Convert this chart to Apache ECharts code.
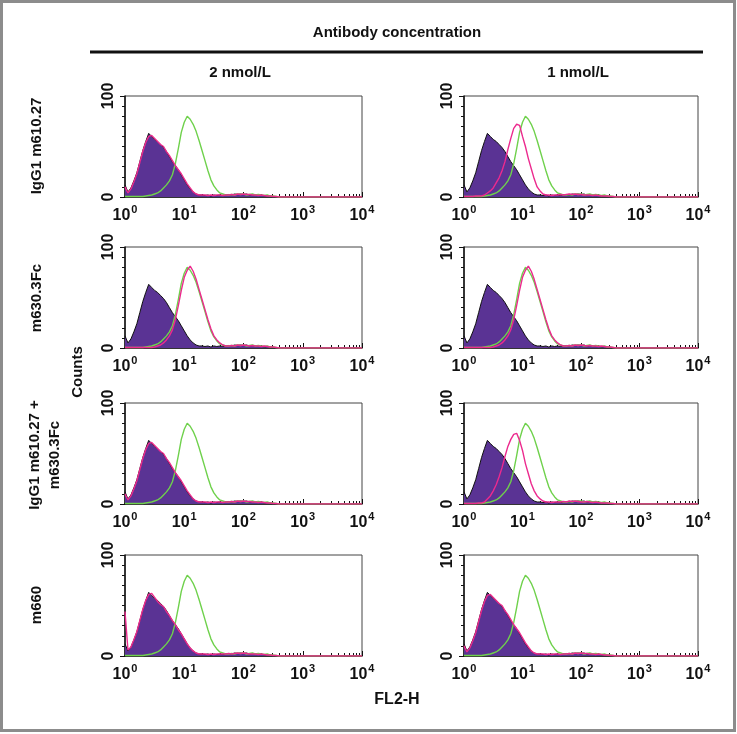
<!DOCTYPE html>
<html><head><meta charset="utf-8">
<script src="https://cdn.jsdelivr.net/npm/echarts@6/dist/echarts.min.js"></script>
<style>html,body{margin:0;padding:0;background:#fff}#c{width:737px;height:734px}</style>
</head><body><div id="c"></div>
<script>
// FL2-H channel positions (log spaced bins)
const channelX = [1,1.122,1.259,1.413,1.585,1.778,1.995,2.239,2.512,2.818,3.162,3.548,3.981,4.467,5.012,5.623,6.310,7.079,7.943,8.913,10,11.22,12.59,14.13,15.85,17.78,19.95,22.39,25.12,28.18,31.62,35.48,39.81,44.67,50.12,56.23,63.10,70.79,79.43,89.13,100,112.2,125.9,141.3,158.5,177.8,199.5,223.9,251.2,281.8,316.2,354.8,398.1,631,1000,3162,10000];
// unstained control (filled purple)
const controlFill = [12,5,9,16,24,35,46,55,63,60,57,55,52,49,45,40,35,31,27,22,17,12,8,5,3,2,2,1.5,2,1,2,1.5,2,1.5,2,2.5,2,3,2.5,3,2.5,3,2,2.5,2,1.5,2,1,1.5,1,0.5,0.5,0,0,0,0,0];
// positive reference (green)
const greenLine = [0.5,0.5,0.5,0.5,0.5,0.5,0.5,1,1.5,2,3,4,6,9,12,16,22,33,48,64,74,80,77,72,65,56,46,36,26,17,11,7,4,3,2,2,2.5,2,3,2.5,3,2,2.5,3,2,2.5,2,1.5,2,1,1,0.5,0,0,0,0,0];
// magenta, overlapping control
const magentaCtrl = [10,4,8,15,23,34,45,54,60,61,58,55,52,50,45,41,36,31,27,23,18,13,9,5,3,2,2,2,1.5,2,1.5,2,2,1.5,2,2,2.5,2,3,2.5,3,2.5,2.5,2,2,1.5,2,1.5,1,1,0.5,0.5,0,0,0,0,0];
// magenta, overlapping control, left-edge spike
const magentaCtrlSpike = [44,6,9,16,24,35,46,55,61,62,58,54,51,49,44,40,35,31,26,22,17,12,8,5,3,2,2,2,1.5,2,1.5,2,2,2,2,2.5,2,2.5,3,2.5,3,2.5,2,2,2,1.5,2,1.5,1,1,0.5,0.5,0,0,0,0,0];
// magenta, shifted (row 1, 1 nmol/L)
const magentaShiftA = [0.5,0.5,0.5,0.5,1,1,1,2,4,6,9,14,19,26,35,47,58,68,72,71,60,50,38,28,18,10,6,3,2,2,1.5,2,2,2.5,2,2.5,3,2.5,3,2.5,2.5,2,2,2,1.5,2,1.5,1,1,1,0.5,0.5,0,0,0,0,0];
// magenta, shifted (row 3, 1 nmol/L)
const magentaShiftB = [0.5,0.5,0.5,0.5,0.5,1,1,2,5,8,13,19,27,36,47,57,64,69,70,63,53,40,30,20,13,8,5,3,2,2,1.5,2,2,2,2.5,2,3,2.5,3,2.5,2,2,2.5,2,1.5,2,1.5,1,1,1,0.5,0.5,0,0,0,0,0];
// magenta, overlapping green (row 2)
const magentaGreen = [0.5,0.5,0.5,0.5,0.5,0.5,0.5,0.5,0.5,0.5,1,2,3,5,8,12,18,28,42,57,70,77,81,76,68,58,48,38,28,19,12,8,5,3,2,2,2.5,2,3,2.5,3,2.5,2,2.5,2,2,1.5,2,1.5,1,1,0.5,0,0,0,0,0];

const rowLabels = [["IgG1 m610.27"],["m630.3Fc"],["IgG1 m610.27 +","m630.3Fc"],["m660"]];
const colLabels = ["2 nmol/L","1 nmol/L"];
const panelMagenta = [[magentaCtrl, magentaShiftA],[magentaGreen, magentaGreen],[magentaCtrl, magentaShiftB],[magentaCtrlSpike, magentaCtrl]];
const panelControl = [[controlFill, controlFill],[controlFill, controlFill],[controlFill, controlFill],[controlFill, controlFill]];
const panelGreen = [[greenLine, greenLine],[greenLine, greenLine],[greenLine, greenLine],[greenLine, greenLine]];
const minorTickValues = [2,3,4,5,6,7,8,9,20,30,40,50,60,70,80,90,200,300,400,500,600,700,800,900,2000,3000,4000,5000,6000,7000,8000,9000];

const colLeft = [125, 464], colWidth = [237, 234];
const rowTop = [96, 247, 403, 555], rowHeight = 101;
const FONT = '"Liberation Sans", Arial, sans-serif';
const PURPLE = '#5a3394', GREEN = '#6fd14c', MAGENTA = '#ec2a8e';

const grids = [], xAxes = [], yAxes = [], series = [], minorX = [];
let idx = 0;
for (let r = 0; r < 4; r++) {
  for (let c = 0; c < 2; c++) {
    grids.push({left: colLeft[c], top: rowTop[r], width: colWidth[c], height: rowHeight,
      show: true, borderColor: '#444', borderWidth: 1, backgroundColor: '#fff'});
    xAxes.push({type: 'log', logBase: 10, min: 1, max: 10000, gridIndex: idx,
      axisLine: {lineStyle: {color: '#111', width: 1.5}},
      axisTick: {inside: true, length: 5, lineStyle: {color: '#111'}},
      splitLine: {show: false},
      axisLabel: {margin: 7, color: '#111', fontFamily: FONT,
        formatter: v => '{b|10}{s|' + Math.round(Math.log10(v)) + '}',
        rich: {b: {fontSize: 16, fontWeight: 'bold', fontFamily: FONT, color: '#111', lineHeight: 20, verticalAlign: 'bottom'},
               s: {fontSize: 11, fontWeight: 'bold', fontFamily: FONT, color: '#111', lineHeight: 20, verticalAlign: 'top', padding: [0,0,7,1]}}}});
    minorX.push({type: 'log', logBase: 10, min: 1, max: 10000, gridIndex: idx, position: 'bottom',
      axisLine: {show: false}, splitLine: {show: false}, axisLabel: {show: false},
      axisTick: {show: true, inside: true, length: 3, customValues: minorTickValues, lineStyle: {color: '#111'}}});
    yAxes.push({type: 'value', min: 0, max: 100, interval: 100, gridIndex: idx,
      axisLine: {show: true, lineStyle: {color: '#111', width: 1.5}},
      axisTick: {show: true, length: 5, lineStyle: {color: '#111'}},
      minorTick: {show: true, splitNumber: 10, length: 3, lineStyle: {color: '#111'}},
      splitLine: {show: false},
      axisLabel: {rotate: 90, margin: 8, fontSize: 16, fontWeight: 'bold', color: '#111', fontFamily: FONT}});
    const mk = arr => channelX.map((x, i) => [x, arr[i]]);
    series.push({type: 'line', xAxisIndex: idx, yAxisIndex: idx, data: mk(panelControl[r][c]), symbol: 'none',
      lineStyle: {color: '#111', width: 1}, areaStyle: {color: PURPLE, opacity: 1}, z: 2, silent: true});
    series.push({type: 'line', xAxisIndex: idx, yAxisIndex: idx, data: mk(panelGreen[r][c]), symbol: 'none',
      lineStyle: {color: GREEN, width: 1.4}, z: 3, silent: true});
    series.push({type: 'line', xAxisIndex: idx, yAxisIndex: idx, data: mk(panelMagenta[r][c]), symbol: 'none',
      lineStyle: {color: MAGENTA, width: 1.4}, z: 4, silent: true});
    idx++;
  }
}

const graphics = [
  {type: 'rect', shape: {x: 1.5, y: 1.5, width: 733, height: 729}, style: {fill: 'none', stroke: '#8c8c8c', lineWidth: 3}},
  {type: 'text', x: 397, y: 33, style: {text: 'Antibody concentration', font: 'bold 15px ' + FONT, fill: '#111', textAlign: 'center', textVerticalAlign: 'middle'}},
  {type: 'line', shape: {x1: 90, y1: 52, x2: 703, y2: 52}, style: {stroke: '#111', lineWidth: 3}},
  {type: 'text', x: 240, y: 73, style: {text: colLabels[0], font: 'bold 15px ' + FONT, fill: '#111', textAlign: 'center', textVerticalAlign: 'middle'}},
  {type: 'text', x: 578, y: 73, style: {text: colLabels[1], font: 'bold 15px ' + FONT, fill: '#111', textAlign: 'center', textVerticalAlign: 'middle'}},
  {type: 'text', x: 397, y: 700, style: {text: 'FL2-H', font: 'bold 16px ' + FONT, fill: '#111', textAlign: 'center', textVerticalAlign: 'middle'}},
  {type: 'text', x: 78, y: 372, rotation: Math.PI/2, style: {text: 'Counts', font: 'bold 15px ' + FONT, fill: '#111', textAlign: 'center', textVerticalAlign: 'middle'}}
];
const rowCenters = [146, 298, 455, 605];
for (let r = 0; r < 4; r++) {
  const lines = rowLabels[r];
  lines.forEach((t, k) => {
    const x = lines.length === 1 ? 37 : (k === 0 ? 35 : 55);
    graphics.push({type: 'text', x: x, y: rowCenters[r], rotation: Math.PI/2,
      style: {text: t, font: 'bold 15px ' + FONT, fill: '#111', textAlign: 'center', textVerticalAlign: 'middle'}});
  });
}

const chart = echarts.init(document.getElementById('c'), null, {renderer: 'canvas'});
chart.setOption({
  animation: false,
  backgroundColor: '#fff',
  grid: grids,
  xAxis: xAxes.concat(minorX),
  yAxis: yAxes,
  series: series,
  graphic: graphics
});
</script>
</body></html>
